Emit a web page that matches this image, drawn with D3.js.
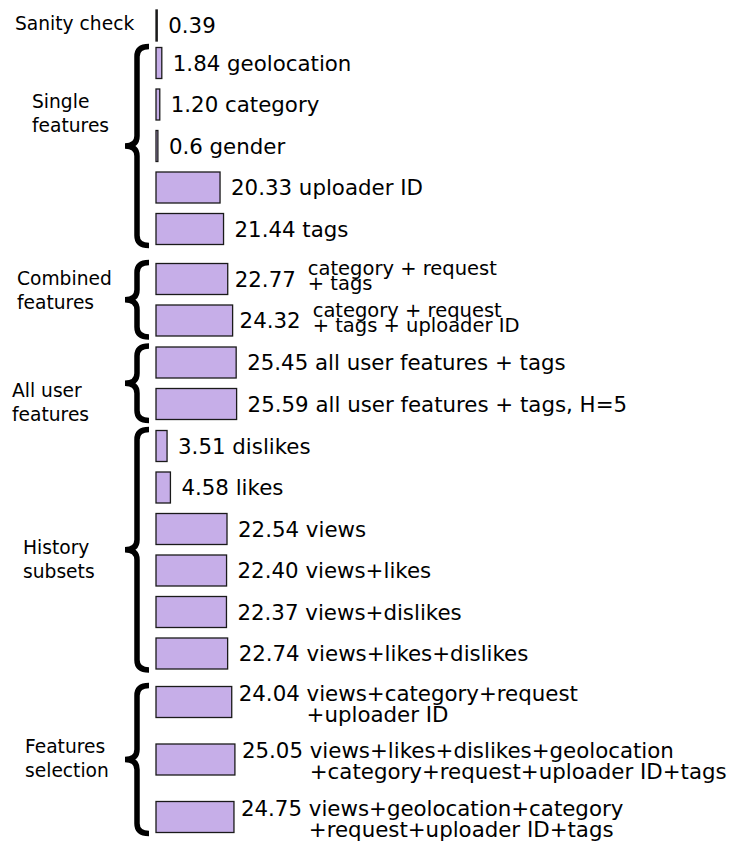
<!DOCTYPE html>
<meta charset="utf-8">
<style>
body { margin: 0; background: #fff; }
svg { display: block; font-family: "DejaVu Sans", sans-serif; }
</style>
<svg width="733" height="844"></svg>
<script src="https://cdn.jsdelivr.net/npm/d3@7"></script>
<script>

// data
var groupNames = [["Sanity check"], ["Single", "features"], ["Combined", "features"],
                  ["All user", "features"], ["History", "subsets"], ["Features", "selection"]];
var rowGroup = [0, 1, 1, 1, 1, 1, 2, 2, 3, 3, 4, 4, 4, 4, 4, 4, 5, 5, 5];
var values = [0.39, 1.84, 1.20, 0.6, 20.33, 21.44, 22.77, 24.32, 25.45, 25.59,
              3.51, 4.58, 22.54, 22.40, 22.37, 22.74, 24.04, 25.05, 24.75];
var valueLabels = ["0.39", "1.84", "1.20", "0.6", "20.33", "21.44", "22.77", "24.32", "25.45", "25.59",
                   "3.51", "4.58", "22.54", "22.40", "22.37", "22.74", "24.04", "25.05", "24.75"];
var rowNames = [[""], ["geolocation"], ["category"], ["gender"], ["uploader ID"], ["tags"],
                ["category + request", "+ tags"], ["category + request", "+ tags + uploader ID"],
                ["all user features + tags"], ["all user features + tags, H=5"],
                ["dislikes"], ["likes"], ["views"], ["views+likes"], ["views+dislikes"], ["views+likes+dislikes"],
                ["views+category+request", "+uploader ID"],
                ["views+likes+dislikes+geolocation", "+category+request+uploader ID+tags"],
                ["views+geolocation+category", "+request+uploader ID+tags"]];

// layout
var svg = d3.select("svg"),
    barH = 31,
    pitch = 41.5,
    wrapPitch = 57.5,           // rows whose label wraps at full size
    groupGap = [0, -4, 8.5, 0.5, 0.5, 7],
    labelLayout = [{x: 15, dy: 4}, {x: 32, dy: -38}, {x: 17, dy: -15},
                   {x: 12, dy: 14}, {x: 23, dy: 4}, {x: 25, dy: -7}],
    fill = "#c6aee8";

var x = d3.scaleLinear().domain([0, 26]).range([156, 156 + 26 * 3.15]);

// cumulative row tops
var rows = [], yTop = 10;
values.forEach(function(v, i) {
  if (i > 0) {
    var g = rowGroup[i];
    yTop += (g === 5 && rowGroup[i - 1] === 5 ? wrapPitch : pitch);
    if (g !== rowGroup[i - 1]) yTop += groupGap[g];
  }
  rows.push({i: i, v: v, top: yTop, cy: yTop + barH / 2, group: rowGroup[i],
             label: valueLabels[i], name: rowNames[i]});
});

var g = svg.append("g");

g.selectAll("rect.bar")
  .data(rows)
  .enter().append("rect")
    .attr("class", "bar")
    .attr("x", x(0))
    .attr("y", function(d) { return d.top; })
    .attr("width", function(d) { return x(d.v) - x(0); })
    .attr("height", barH)
    .attr("fill", fill)
    .attr("stroke", "#1a1a1a")
    .attr("stroke-width", 1.3);

// value + name labels
rows.forEach(function(d) {
  var big = 21.33, small = 19.5;
  if (d.name.length === 1) {
    g.append("text")
      .attr("x", x(d.v) + 11)
      .attr("y", d.cy)
      .attr("dy", "0.36em")
      .attr("font-size", big)
      .text(d.label + (d.name[0] ? " " + d.name[0] : ""));
  } else if (d.group === 2) {
    var num = g.append("text")
      .attr("x", x(d.v) + 7)
      .attr("y", d.cy)
      .attr("dy", "0.36em")
      .attr("font-size", big)
      .text(d.label);
    var nx = x(d.v) + 7 + num.node().getComputedTextLength() + 12;
    g.append("text")
      .attr("x", nx).attr("y", d.cy - 4)
      .attr("font-size", small)
      .text(d.name[0]);
    g.append("text")
      .attr("x", nx).attr("y", d.cy + 11)
      .attr("font-size", small)
      .text(d.name[1]);
  } else {
    var lx = x(d.v) + 7;
    var t1 = g.append("text")
      .attr("x", lx)
      .attr("y", d.cy - 1.5)
      .attr("font-size", big)
      .text(d.label + "\u00a0");
    var nx2 = lx + t1.node().getComputedTextLength();
    t1.text(d.label + " " + d.name[0]);
    g.append("text")
      .attr("x", nx2)
      .attr("y", d.cy + 19.5)
      .attr("font-size", big)
      .text(d.name[1]);
  }
});

// group braces and labels
var groups = d3.groups(rows, function(d) { return d.group; });

function brace(y0, y1) {
  var xr = 149, xs = 137, xt = 125, r = 10, ym = (y0 + y1) / 2;
  return "M" + xr + "," + y0 +
    "Q" + xs + "," + y0 + " " + xs + "," + (y0 + r) +
    "L" + xs + "," + (ym - r) +
    "Q" + xs + "," + ym + " " + xt + "," + ym +
    "Q" + xs + "," + ym + " " + xs + "," + (ym + r) +
    "L" + xs + "," + (y1 - r) +
    "Q" + xs + "," + y1 + " " + xr + "," + y1;
}

groups.forEach(function(gr) {
  var k = gr[0], rs = gr[1];
  var y0 = rs[0].top - 1, y1 = rs[rs.length - 1].top + barH + 1;
  var cy = (y0 + y1) / 2;
  if (k > 0) {
    g.append("path")
      .attr("d", brace(y0, y1))
      .attr("fill", "none")
      .attr("stroke", "#000")
      .attr("stroke-width", 5.5);
  }
  var lab = g.append("text")
    .attr("font-size", 18.67)
    .attr("x", labelLayout[k].x)
    .attr("y", cy + labelLayout[k].dy);
  groupNames[k].forEach(function(s, j) {
    lab.append("tspan")
      .attr("x", labelLayout[k].x)
      .attr("dy", j === 0 ? 0 : 24)
      .text(s);
  });
});

</script>
